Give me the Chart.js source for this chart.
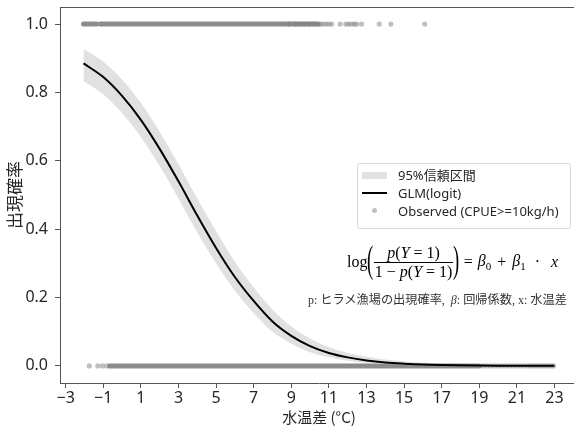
<!DOCTYPE html>
<html>
<head>
<meta charset="utf-8">
<script src="https://cdn.jsdelivr.net/npm/chart.js@4.4.1/dist/chart.umd.min.js"></script>
<style>
  body { margin: 0; overflow: hidden; background: #fff; }
  #wrap { position: relative; width: 574px; height: 428px; overflow: hidden; }
  #glmChart { position: absolute; left: 0; top: 0; }
  #legend {
    position: absolute; left: 357px; top: 163px; width: 212px; height: 64px;
    border: 1px solid #d9d9d9; border-radius: 3px; background: rgba(255,255,255,0.85);
    font: 13px "Noto Sans", "Noto Sans CJK JP", sans-serif; color: #262626;
  }
  .row { position: absolute; left: 40px; white-space: nowrap; line-height: 18px; }
  .swatch { position: absolute; }
  #formula {
    position: absolute; left: 347px; top: 243px; height: 38px;
    display: flex; align-items: center; white-space: nowrap;
    font-family: "Liberation Serif", serif; font-size: 16px; color: #000;
  }
  .paren { display: inline-block; font-size: 37px; line-height: 38px; transform: scaleX(0.5); margin: -4px -3px 0 -3px; }
  .frac { display: inline-flex; flex-direction: column; text-align: center; font-size: 16px; }
  .frac span { line-height: 18px; padding: 0 1px; }
  .frac .num { border-bottom: 1px solid #000; }
  .rhs sub { font-size: 11px; }
  #note {
    position: absolute; left: 308px; top: 292px; line-height: 14px; white-space: nowrap; color: #333;
    font-family: "Liberation Serif", "Noto Sans CJK JP", serif; font-size: 12px;
  }
  .cjk { font-family: "Noto Sans CJK JP", sans-serif; font-size: 12.2px; }
</style>
</head>
<body>
<div id="wrap">
  <canvas id="glmChart" width="582" height="428"></canvas>
  <div id="legend">
    <div class="swatch" style="left:4px;top:8px;width:25px;height:7px;background:#e2e2e2"></div>
    <div class="row" style="top:2px">95%信頼区間</div>
    <div class="swatch" style="left:4px;top:28px;width:25px;height:2px;background:#000"></div>
    <div class="row" style="top:20px">GLM(logit)</div>
    <div class="swatch" style="left:14px;top:44px;width:5px;height:5px;border-radius:50%;background:#c0c0c0"></div>
    <div class="row" style="top:38px">Observed (CPUE&gt;=10kg/h)</div>
  </div>
  <div id="formula">
    <span>log</span><span class="paren">(</span><span class="frac"><span class="num"><i>p</i>(<i>Y</i> = 1)</span><span class="den">1 − <i>p</i>(<i>Y</i> = 1)</span></span><span class="paren">)</span>
    <span class="rhs" style="margin-left:4px">=</span>
    <span class="rhs" style="margin-left:5px"><i>β</i><sub>0</sub></span>
    <span class="rhs" style="margin-left:6px">+</span>
    <span class="rhs" style="margin-left:6px"><i>β</i><sub>1</sub></span>
    <span class="rhs" style="margin-left:9px">·</span>
    <span class="rhs" style="margin-left:11px"><i>x</i></span>
  </div>
  <div id="note">p: <span class="cjk">ヒラメ漁場の出現確率</span>,&nbsp; <i>β</i>: <span class="cjk">回帰係数</span>, x: <span class="cjk">水温差</span></div>
</div>
<script>
// fitted curve and 95% band
const curveX = [-2.05, -1, 0, 1, 2, 3, 4, 5, 6, 7, 8, 9, 10, 11, 12, 13, 14, 15, 16, 17, 18, 19, 20, 21, 22, 23];
const curveP = [0.885, 0.845, 0.79, 0.72, 0.635, 0.54, 0.44, 0.345, 0.26, 0.19, 0.13, 0.088, 0.058, 0.038, 0.025, 0.016, 0.010, 0.0065, 0.004, 0.0026, 0.0017, 0.0011, 0.0007, 0.00045, 0.0003, 0.0002];
const bandUpper = [0.927, 0.89, 0.838, 0.77, 0.685, 0.59, 0.49, 0.395, 0.305, 0.23, 0.165, 0.115, 0.08, 0.055, 0.038, 0.027, 0.019, 0.013, 0.009, 0.0065, 0.0045, 0.003, 0.002, 0.0014, 0.001, 0.0007];
const bandLower = [0.833, 0.795, 0.74, 0.67, 0.585, 0.49, 0.39, 0.30, 0.22, 0.155, 0.10, 0.065, 0.04, 0.025, 0.015, 0.009, 0.0055, 0.003, 0.0018, 0.001, 0.0006, 0.0003, 0.0002, 0.0001, 0.00005, 0.00003];

// observed presence (y=1) / absence (y=0): dense stretches and single points
const presentRuns = [[-2.05, -1.35], [-1.15, 10.4]];
const presentX = [8.9, 9.2, 9.45, 9.7, 9.95, 10.2, 10.45, 10.55, 10.7, 10.85, 11.0, 11.15, 11.6, 11.9, 12.05, 12.2, 12.35, 12.48, 12.74, 13.68, 14.3, 16.1];
const absentRuns = [[-0.65, 19.0]];
const absentX = [-1.74, -1.29, -1.04, -0.8, 19.2, 19.4, 19.6, 19.8, 20.0, 20.2, 20.4, 20.6, 20.8, 21.0, 21.2, 21.4, 21.6, 21.75, 21.9, 22.05, 22.2, 22.35, 22.5, 22.65, 22.8, 22.95];

const xTicks = [-3, -1, 1, 3, 5, 7, 9, 11, 13, 15, 17, 19, 21, 23];
const yTicks = [0, 0.2, 0.4, 0.6, 0.8, 1.0];

function toPoints(xs, ys) {
  return xs.map((x, i) => ({ x: x, y: ys[i] }));
}

function runPoints(runs, y) {
  let pts = [];
  runs.forEach((r, i) => {
    if (i > 0) pts.push({ x: (runs[i - 1][1] + r[0]) / 2, y: null });
    pts.push({ x: r[0], y: y }, { x: r[1], y: y });
  });
  return pts;
}

const topBorder = {
  id: "topBorder",
  afterDraw(chart) {
    const a = chart.chartArea;
    const c = chart.ctx;
    c.save();
    c.strokeStyle = "#555";
    c.lineWidth = 1;
    c.beginPath();
    c.moveTo(a.left, Math.round(a.top) + 0.5);
    c.lineTo(a.right, Math.round(a.top) + 0.5);
    c.stroke();
    c.restore();
  },
};

const tickFont = { family: "'Noto Sans', 'Noto Sans CJK JP', sans-serif", size: 16 };
const titleFamily = "'Noto Sans CJK JP', 'Noto Sans', sans-serif";

const ctx = document.getElementById("glmChart").getContext("2d");
const glmChart = new Chart(ctx, {
  type: "line",
  data: {
    datasets: [
      {
        label: "GLM(logit)",
        data: toPoints(curveX, curveP),
        borderColor: "#000",
        borderWidth: 2,
        pointRadius: 0,
        cubicInterpolationMode: "monotone",
        fill: false,
        order: 0,
      },
      {
        label: "95%信頼区間",
        data: toPoints(curveX, bandUpper),
        borderWidth: 0,
        borderColor: "rgba(0,0,0,0)",
        backgroundColor: "rgba(200,200,200,0.55)",
        pointRadius: 0,
        cubicInterpolationMode: "monotone",
        fill: "+1",
        order: 1,
      },
      {
        label: "lower",
        data: toPoints(curveX, bandLower),
        borderWidth: 0,
        borderColor: "rgba(0,0,0,0)",
        pointRadius: 0,
        cubicInterpolationMode: "monotone",
        fill: false,
        order: 1,
      },
      {
        type: "scatter",
        label: "Observed (CPUE>=10kg/h)",
        data: presentX.map((x) => ({ x: x, y: 1 })).concat(absentX.map((x) => ({ x: x, y: 0 }))),
        backgroundColor: "rgba(128,128,128,0.5)",
        borderWidth: 0,
        pointRadius: 2.6,
        order: 2,
      },
      {
        label: "observed dense",
        data: runPoints(presentRuns, 1).concat([{ x: 11.5, y: null }], runPoints(absentRuns, 0)),
        borderColor: "rgba(128,128,128,0.9)",
        borderWidth: 5,
        borderCapStyle: "round",
        pointRadius: 0,
        spanGaps: false,
        fill: false,
        order: 3,
      },
    ],
  },
  options: {
    responsive: false,
    animation: false,
    layout: { padding: { top: 7, right: 2, left: 0, bottom: 0 } },
    plugins: { legend: { display: false }, tooltip: { enabled: false } },
    scales: {
      x: {
        type: "linear",
        min: -3.3,
        max: 24.25,
        afterBuildTicks: (s) => { s.ticks = xTicks.map((v) => ({ value: v })); },
        afterFit: (s) => { s.height = 45; s.paddingLeft = 0; s.paddingRight = 0; },
        ticks: {
          font: tickFont,
          color: "#262626",
          padding: 1,
          maxRotation: 0,
          autoSkip: false,
          callback: (v) => (v < 0 ? "\u2212" + Math.abs(v) : String(v)),
        },
        grid: { drawOnChartArea: false, tickLength: 5, color: "#555" },
        border: { color: "#555", width: 1 },
        title: { display: true, text: "水温差 (°C)", font: { family: titleFamily, size: 15 }, color: "#262626", padding: { top: 0, bottom: 2 } },
      },
      y: {
        type: "linear",
        min: -0.05,
        max: 1.05,
        afterBuildTicks: (s) => { s.ticks = yTicks.map((v) => ({ value: v })); },
        afterFit: (s) => { s.width = 60; s.paddingTop = 0; s.paddingBottom = 0; },
        ticks: {
          font: tickFont,
          color: "#262626",
          padding: 7,
          callback: (v) => v.toFixed(1),
        },
        grid: { drawOnChartArea: false, tickLength: 5, color: "#555" },
        border: { color: "#555", width: 1 },
        title: { display: true, text: "出現確率", font: { family: titleFamily, size: 17 }, color: "#262626", padding: { top: 4, bottom: 0 } },
      },
    },
  },
  plugins: [topBorder],
});
</script>
</body>
</html>
